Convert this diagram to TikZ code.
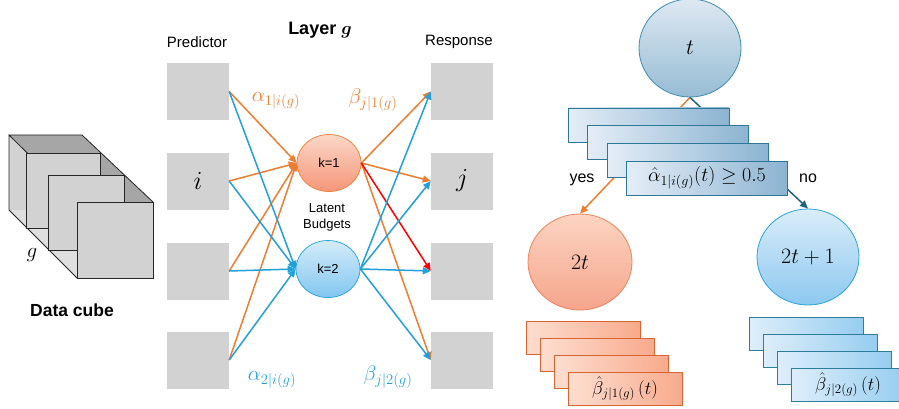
\RequirePackage{fix-cm}
\documentclass[tikz,border=0pt]{standalone}
\usepackage{fontspec}
\setmainfont{Liberation Sans}
\usetikzlibrary{shapes.geometric,arrows.meta}

\definecolor{orng}{RGB}{237,125,49}
\definecolor{blu}{RGB}{33,160,220}
\definecolor{teal2}{RGB}{30,100,130}
\definecolor{cellgray}{RGB}{210,210,210}

\tikzset{
  cell/.style={fill=cellgray,minimum width=62pt,minimum height=57pt,inner sep=0pt,
    font=\fontsize{26}{28}\selectfont},
  budget/.style={ellipse,minimum width=64pt,minimum height=57pt,inner sep=0pt,line width=0.7pt,
    font=\fontsize{13}{15}\selectfont},
  orarrow/.style={draw=orng,line width=1.5pt,-{Triangle[length=8pt,width=7pt]}},
  blarrow/.style={draw=blu,line width=1.5pt,-{Triangle[length=8pt,width=7pt]}},
  label/.style={font=\fontsize{15}{17}\selectfont,inner sep=0pt},
  mathlabel/.style={inner sep=0pt,font=\fontsize{21}{23}\selectfont},
  treenode/.style={ellipse,inner sep=0pt,line width=0.8pt,font=\fontsize{22}{24}\selectfont},
  splitbox/.style={minimum width=161pt,minimum height=34pt,inner sep=0pt,line width=0.9pt,
    draw={rgb,255:red,45;green,120;blue,150},
    left color={rgb,255:red,228;green,237;blue,246},right color={rgb,255:red,140;green,180;blue,210}},
  leafor/.style={minimum width=114pt,minimum height=33pt,inner sep=0pt,line width=0.9pt,
    draw={rgb,255:red,215;green,100;blue,50},
    left color={rgb,255:red,253;green,222;blue,208},right color={rgb,255:red,248;green,170;blue,140}},
  leafbl/.style={minimum width=114pt,minimum height=33pt,inner sep=0pt,line width=0.9pt,
    draw={rgb,255:red,45;green,125;blue,155},
    left color={rgb,255:red,222;green,238;blue,250},right color={rgb,255:red,150;green,205;blue,240}},
}

\begin{document}
\begin{tikzpicture}[x=1pt,y=-1pt]
  \useasboundingbox (0,0) rectangle (899,409);

  % data cube
  \fill[gray!35] (9,135) -- (77,202) -- (77,278) -- (9,210) -- cycle;
  \fill[gray!25] (9,210) -- (82,210) -- (153,278) -- (77,278) -- cycle;
  \fill[gray!70] (9,135) -- (82,135) -- (153,202) -- (77,202) -- cycle;
  \fill[gray!70] (82,135) -- (153,202) -- (153,278) -- (82,210) -- cycle;
  \draw[line width=0.8pt,black!85] (77,202) -- (9,135) -- (82,135) -- (153,202)
    (9,135) -- (9,210) -- (77,278);
  \draw[line width=0.8pt,black!85,fill=gray!35] (26,153) rectangle (100,228);
  \draw[line width=0.8pt,black!85,fill=gray!35] (48,175) rectangle (124,250);
  \draw[line width=0.8pt,black!85,fill=gray!35] (77,202) rectangle (153,278);
  \node[mathlabel] (glbl) at (32,255) {$g$};
  \node[label,font=\fontsize{17.5}{19}\bfseries] (cube) at (72,310) {Data cube};

  % layer g
  \node[label,font=\fontsize{18}{20}\bfseries\boldmath] (layer) at (320,30) {Layer $g$};
  \node[label] (pred) at (197,42) {Predictor};
  \node[label] (resp) at (459,42) {Response};

  \node[cell] (p1) at (198,91.5) {};
  \node[cell] (p2) at (198,181) {$i$};
  \node[cell] (p3) at (198,271) {};
  \node[cell] (p4) at (198,360) {};

  \node[cell] (r1) at (462,91.5) {};
  \node[cell] (r2) at (462,181) {$j$};
  \node[cell] (r3) at (462,271) {};
  \node[cell] (r4) at (462,360) {};

  \node[budget,draw=orng,top color={rgb,255:red,251;green,215;blue,200},
    bottom color={rgb,255:red,245;green,150;blue,120}] (k1) at (329,163) {k=1};
  \node[budget,draw=blu,top color={rgb,255:red,212;green,236;blue,250},
    bottom color={rgb,255:red,130;green,198;blue,240}] (k2) at (328,269) {k=2};
  \node[label,align=center,font=\fontsize{13}{16}\selectfont] (latent) at (327,217) {Latent\\Budgets};

  \foreach \p in {p1,p2,p3,p4}
    \draw[orarrow] (\p.east) -- (k1.west);
  \foreach \p in {p1,p2,p3,p4}
    \draw[blarrow] (\p.east) -- (k2.west);
  \foreach \r in {r1,r2,r4}
    \draw[orarrow] (k1.east) -- (\r.west);
  \draw[orarrow,draw=red] (k1.east) -- (r3.west);
  \foreach \r in {r1,r2,r3,r4}
    \draw[blarrow] (k2.east) -- (\r.west);

  \node[mathlabel,text=orng] (a1) at (276,101) {$\alpha_{1|i(g)}$};
  \node[mathlabel,text=orng] (b1) at (373,100) {$\beta_{j|1(g)}$};
  \node[mathlabel,text=blu] (a2) at (272,380) {$\alpha_{2|i(g)}$};
  \node[mathlabel,text=blu] (b2) at (388,377) {$\beta_{j|2(g)}$};

  % tree
  \node[treenode,minimum width=102pt,minimum height=98pt,
    draw={rgb,255:red,60;green,140;blue,175},
    top color={rgb,255:red,222;green,232;blue,242},bottom color={rgb,255:red,150;green,188;blue,212}]
    (t) at (690,48) {$t$};
  \node[treenode,minimum width=104pt,minimum height=96pt,
    draw={rgb,255:red,235;green,130;blue,90},
    top color={rgb,255:red,252;green,212;blue,194},bottom color={rgb,255:red,245;green,165;blue,140}]
    (n2t) at (580,262) {$2t$};
  \node[treenode,minimum width=102pt,minimum height=96pt,
    draw={rgb,255:red,40;green,165;blue,215},
    top color={rgb,255:red,218;green,237;blue,250},bottom color={rgb,255:red,140;green,200;blue,240}]
    (n2t1) at (808,257) {$2t+1$};

  \draw[orarrow] (t.south) -- (n2t.north);
  \draw[blarrow,draw=teal2] (t.south) -- (n2t1.north);

  \foreach \i in {1,2,3}
    \node[splitbox] (s\i) at ({648.5+19.5*(\i-1)},{125+17.7*(\i-1)}) {};
  \node[splitbox,font=\fontsize{20}{22}\selectfont] (s4) at (707,178) {$\hat{\alpha}_{1|i(g)}(t)\geq 0.5$};
  \node[label,font=\fontsize{16}{18}\selectfont] (yes) at (582,180) {yes};
  \node[label,font=\fontsize{16}{18}\selectfont] (no) at (808,178) {no};

  \foreach \i in {1,2,3}
    \node[leafor] (lo\i) at ({583+14*(\i-1)},{337.5+17*(\i-1)}) {};
  \node[leafor,font=\fontsize{18.5}{20}\selectfont] (lo4) at (625,388.5) {$\hat{\beta}_{j|1(g)}\,(t)$};

  \foreach \i in {1,2,3}
    \node[leafbl] (lb\i) at ({806+14*(\i-1)},{333.5+17*(\i-1)}) {};
  \node[leafbl,font=\fontsize{18.5}{20}\selectfont] (lb4) at (848,384.5) {$\hat{\beta}_{j|2(g)}\,(t)$};
\end{tikzpicture}
\end{document}
